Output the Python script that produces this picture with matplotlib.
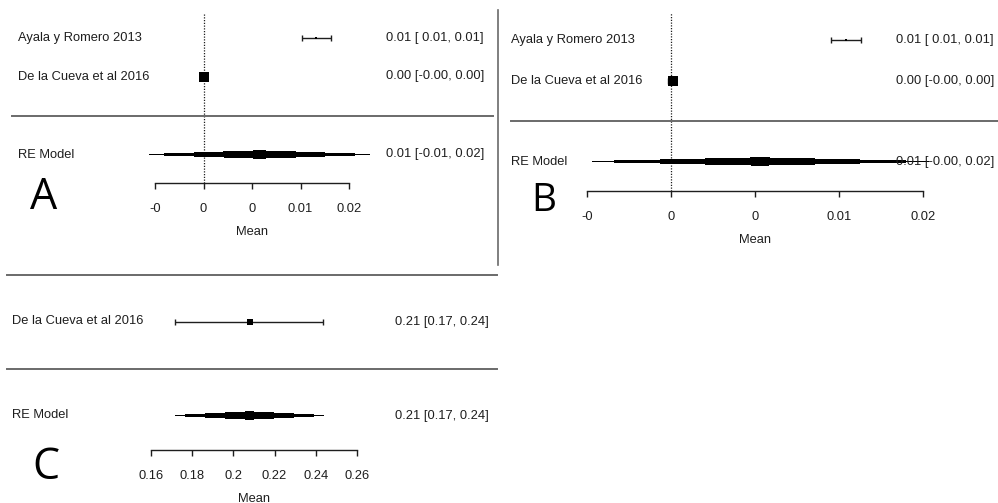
import matplotlib.pyplot as plt
from matplotlib.lines import Line2D
from matplotlib.patches import Polygon

plt.rcParams['font.family'] = ['Liberation Sans', 'DejaVu Sans']

W, H = 998, 503

studies_ab = ["Ayala y Romero 2013", "De la Cueva et al 2016"]
studies_c = ["De la Cueva et al 2016"]

# panel A: study estimates, CIs, weights, random-effects summary (est, lo, hi)
a_est = [0.0116, 0.0000]
a_lo = [0.0102, -0.0002]
a_hi = [0.0131, 0.0002]
a_wt = [4, 96]
a_re = [0.0058, -0.0056, 0.0171]

# panel B
b_est = [0.0104, 0.0001]
b_lo = [0.0095, -0.0002]
b_hi = [0.0113, 0.0003]
b_wt = [5, 95]
b_re = [0.0053, -0.0047, 0.0153]

# panel C
c_est = [0.208]
c_lo = [0.1718]
c_hi = [0.2437]
c_wt = [100]
c_re = [0.208, 0.1718, 0.2437]

ab_ticks = [-0.005, 0, 0.005, 0.01, 0.015]
ab_ticklabels = ["-0", "0", "0", "0.01", "0.02"]
c_ticks = [0.16, 0.18, 0.2, 0.22, 0.24, 0.26]
c_ticklabels = ["0.16", "0.18", "0.2", "0.22", "0.24", "0.26"]

INK = '#1e1e1e'
GREY = '#6a6a6a'
FS = 9.3

fig = plt.figure(figsize=(W / 100, H / 100), dpi=100)


def forest(name, studies, est, lo, hi, wt, re, ticks, ticklabels,
           ax_px, row0, rowpx, axis_px, top_px, sep_px, lab_px, ann_px,
           letter_xy, letter_size, refline=True, max_ms=7.0):
    x0, x1 = ax_px
    ax = fig.add_axes([x0 / W, 1 - axis_px / H, (x1 - x0) / W,
                       (axis_px - top_px) / H])
    ax.set_xlim(ticks[0], ticks[-1])
    ax.set_ylim(-(axis_px - row0) / rowpx, (row0 - top_px) / rowpx)

    def fx(px):
        return (px - x0) / (x1 - x0)

    k = len(studies)
    rows = list(range(k, 0, -1))
    neg = any(v < 0 for v in lo + [re[1]])
    wlo = 5 if neg else 4

    def ann(e, l, h):
        return f"{e:.2f} [{l:{wlo}.2f}, {h:.2f}]"

    if refline:
        ax.axvline(0, color=INK, lw=0.9, ls=(0, (1, 1.2)), zorder=1)

    # separators (the top one only when it falls inside the figure)
    for yy in (0, k + 1):
        if row0 - yy * rowpx < 3:
            continue
        ax.axhline(yy, fx(sep_px[0]), fx(sep_px[1]), color=GREY,
                   lw=1.4, clip_on=False)

    wmax = max(wt)
    for r, s, e, l, h, w in zip(rows, studies, est, lo, hi, wt):
        ax.errorbar([e], [r], xerr=[[e - l], [h - e]], fmt='none',
                    ecolor=INK, elinewidth=1.0, capsize=2, capthick=1.0,
                    clip_on=False)
        ax.plot([e], [r], 's', color='black', ms=max(1.6, max_ms * w / wmax),
                mew=0, clip_on=False)
        ax.text(fx(lab_px), r, s, transform=ax.get_yaxis_transform(),
                ha='left', va='center', fontsize=FS, color=INK)
        ax.text(fx(ann_px), r, ann(e, l, h), transform=ax.get_yaxis_transform(),
                ha='left', va='center', fontsize=FS, color=INK)

    # summary diamond
    e, l, h = re
    hh = 3.7 / rowpx
    ax.add_patch(Polygon([[l, -1], [e, -1 + hh], [h, -1], [e, -1 - hh]],
                         closed=True, facecolor='black', edgecolor='none',
                         antialiased=False, clip_on=False, zorder=3))
    ax.text(fx(lab_px), -1, "RE Model", transform=ax.get_yaxis_transform(),
            ha='left', va='center', fontsize=FS, color=INK)
    ax.text(fx(ann_px), -1, ann(e, l, h), transform=ax.get_yaxis_transform(),
            ha='left', va='center', fontsize=FS, color=INK, zorder=4)

    for sp in ('left', 'right', 'top'):
        ax.spines[sp].set_visible(False)
    ax.spines['bottom'].set_color(INK)
    ax.spines['bottom'].set_linewidth(1.0)
    ax.set_yticks([])
    ax.set_xticks(ticks)
    ax.set_xticklabels(ticklabels)
    ax.tick_params(axis='x', direction='out', length=4, width=1.0,
                   color=INK, labelcolor=INK, labelsize=FS, pad=10.5)
    ax.set_xlabel("Mean", fontsize=FS, color=INK, labelpad=8)
    ax.patch.set_visible(False)

    fig.text(letter_xy[0] / W, 1 - letter_xy[1] / H, name,
             fontsize=letter_size, family='Open Sans', fontweight='normal',
             ha='center', va='baseline', color='black')
    return ax


forest("A", studies_ab, a_est, a_lo, a_hi, a_wt, a_re, ab_ticks, ab_ticklabels,
       ax_px=(155, 349), row0=115.5, rowpx=39, axis_px=183, top_px=13,
       sep_px=(12, 493), lab_px=18, ann_px=386, letter_xy=(44, 209),
       letter_size=31)

forest("B", studies_ab, b_est, b_lo, b_hi, b_wt, b_re, ab_ticks, ab_ticklabels,
       ax_px=(587, 923), row0=121, rowpx=40.5, axis_px=191, top_px=13,
       sep_px=(511, 998), lab_px=511, ann_px=896, letter_xy=(544, 211),
       letter_size=28)

forest("C", studies_c, c_est, c_lo, c_hi, c_wt, c_re, c_ticks, c_ticklabels,
       ax_px=(151, 357), row0=368.5, rowpx=47, axis_px=450, top_px=274,
       sep_px=(7, 497), lab_px=12, ann_px=395, letter_xy=(46, 479),
       letter_size=31, refline=False, max_ms=5.0)

# divider between panels A and B
fig.add_artist(Line2D([498 / W, 498 / W], [1 - 10 / H, 1 - 265 / H],
                      color=GREY, lw=1.2))

fig.savefig("out.png", dpi=100)
